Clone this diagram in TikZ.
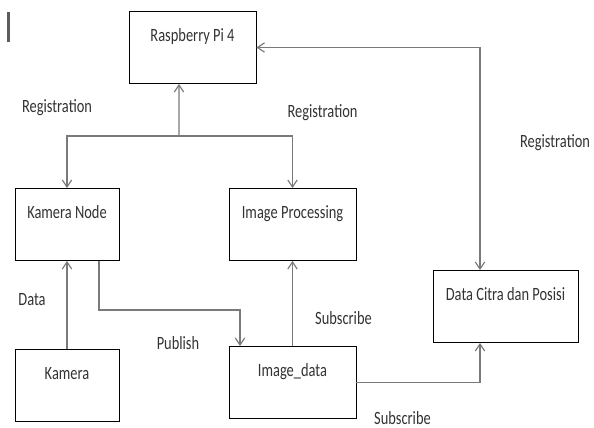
\documentclass[tikz,border=0pt]{standalone}
\usepackage{fontspec}
\setmainfont{Carlito}[FakeStretch=0.77]
\usetikzlibrary{arrows.meta,positioning}
\definecolor{lineCol}{HTML}{7A7A7A}
\definecolor{txtCol}{HTML}{333333}
\newcommand{\lblfont}{\fontsize{16}{18}\selectfont}
\tikzset{
  blk/.style={draw=black, line width=0.7pt, minimum width=#1, minimum height=2.16cm,
              text height=10pt, text depth=20pt, inner sep=0pt, font=\lblfont, text=txtCol},
  conn/.style={-{Straight Barb[length=6pt,width=8pt]}, lineCol, line width=1pt}, % one-way link
  both/.style={{Straight Barb[length=6pt,width=8pt]}-{Straight Barb[length=6pt,width=8pt]},
               lineCol, line width=1pt},                                        % two-way link
  tag/.style={font=\lblfont, text=txtCol, inner sep=1pt},
}

\begin{document}
\begin{tikzpicture}[x=0.03cm, y=-0.03cm]
  \useasboundingbox (0,0) rectangle (594,428);
  \draw[txtCol!80, line width=2pt] (8.5,12) -- (8.5,42);

  % boxes
  \node[blk=3.81cm] (rpi)     at (192.5,47.5)  {Raspberry Pi 4};
  \node[blk=3.12cm] (kamnode) at (67,224.5)    {Kamera Node};
  \node[blk=3.81cm] (improc)  at (292.5,224.5) {Image Processing};
  \node[blk=3.12cm] (kamera)  at (67,385)      {Kamera};
  \node[blk=3.81cm] (imdata)  at (292.5,382.5) {Image\_data};
  \node[blk=4.35cm] (citra)   at (505.5,306.5) {Data Citra dan Posisi};

  % registration bus
  \coordinate (bus) at (179,136);
  \draw[conn] (bus) -- ([xshift=-0.405cm]rpi.south);
  \draw[conn] (bus) -| (kamnode.north);
  \draw[conn] (bus) -| (improc.north);
  \draw[both] (rpi.east) -| ([xshift=-0.765cm]citra.north);

  % data flow
  \draw[conn] (kamera.north) -- (kamnode.south);
  \draw[conn] ([xshift=0.96cm]kamnode.south) -- ++(0,-1.47cm) -| ([xshift=-1.575cm]imdata.north);
  \draw[conn] (imdata.north) -- (improc.south);
  \draw[conn] (imdata.east) -| ([xshift=-0.765cm]citra.south);

  % labels
  \node[tag] (reg1) at (57,108)    {Registration};
  \node[tag] (reg2) at (322.5,113) {Registration};
  \node[tag] (reg3) at (555,143)   {Registration};
  \node[tag] (dat)  at (32,300)    {Data};
  \node[tag] (pub)  at (178,343)   {Publish};
  \node[tag] (sub1) at (343.5,318) {Subscribe};
  \node[tag] (sub2) at (402.5,418) {Subscribe};
\end{tikzpicture}
\end{document}
